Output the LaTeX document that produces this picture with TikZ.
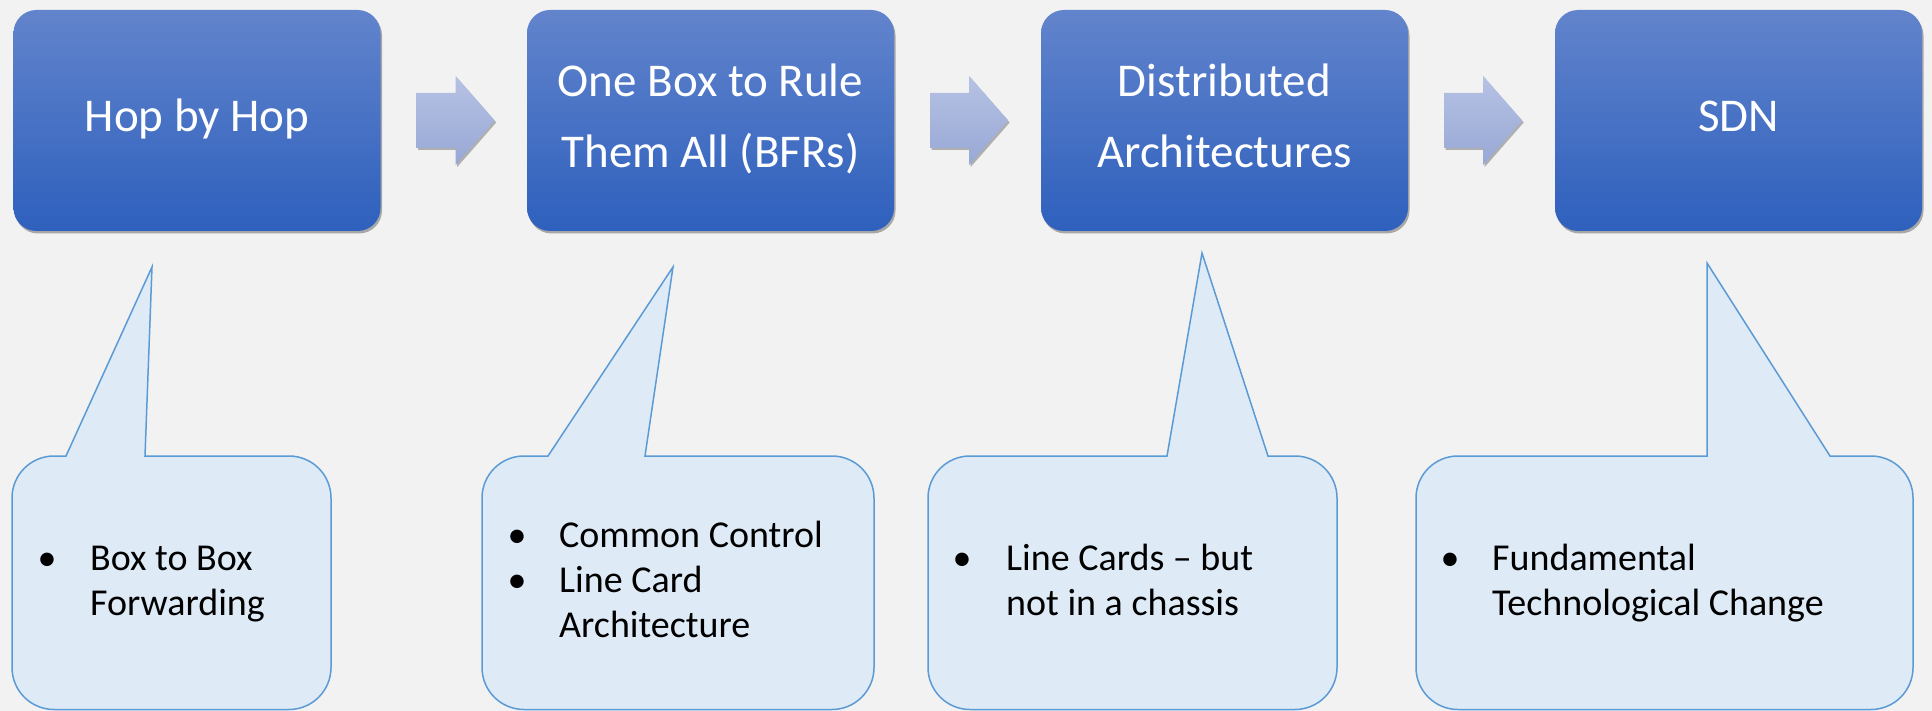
\documentclass[tikz,border=0pt]{standalone}
\usepackage{fontspec}
\setmainfont{Carlito}
\usetikzlibrary{shadows}
\definecolor{bg}{RGB}{242,242,242}
\definecolor{btop}{RGB}{98,132,204}
\definecolor{bbot}{RGB}{46,96,189}
\definecolor{atop}{RGB}{182,194,228}
\definecolor{abot}{RGB}{152,168,213}
\definecolor{cfill}{RGB}{222,234,246}
\definecolor{cline}{RGB}{91,155,213}
\begin{document}
\begin{tikzpicture}[x=1pt,y=-1pt,
  stage/.style={draw=none, rounded corners=23pt, top color=btop, bottom color=bbot,
    minimum width=367pt, minimum height=221pt, inner sep=0pt,
    drop shadow={shadow xshift=1.5pt, shadow yshift=-2.5pt, opacity=0.45, fill=black!70}},
  stagetext/.style={text=white, font=\fontsize{47}{56}\selectfont, anchor=base, inner sep=0pt},
  blockarrow/.style={top color=atop, bottom color=abot,
    drop shadow={shadow xshift=1.5pt, shadow yshift=-2pt, opacity=0.4, fill=black!70}},
  callout/.style={fill=cfill, draw=cline, line width=1.5pt, line join=miter},
  itemtext/.style={font=\fontsize{38}{45}\selectfont, anchor=base west, inner sep=0pt, text=black},
  itembullet/.style={font=\fontsize{38}{45}\selectfont, anchor=base, inner sep=0pt, text=black},
]
\path[use as bounding box, fill=bg] (0,0) rectangle (1932,711);

% stage boxes
\node[stage] (b1) at (197,120.5) {};
\node[stage] (b2) at (710.5,120.5) {};
\node[stage] (b3) at (1224.5,120.5) {};
\node[stage] (b4) at (1738.5,120.5) {};

\node[stagetext] (t1) at (197,132) {Hop by Hop};
\node[stagetext] (t2a) at (710.5,97) {One Box to Rule};
\node[stagetext] (t2b) at (710.5,168) {Them All (BFRs)};
\node[stagetext] (t3a) at (1224.5,97) {Distributed};
\node[stagetext] (t3b) at (1224.5,168) {Architectures};
\node[stagetext] (t4) at (1738.5,132) {SDN};

% block arrows
\foreach \src/\nm in {b1/a1, b2/a2, b3/a3}{
  \path (\src.east) ++(36,0) coordinate (\nm);
  \path[blockarrow] (\nm) ++(0,-27.5) -- ++(39,0) -- ++(0,-17) -- ++(39,44.5)
     -- ++(-39,44.5) -- ++(0,-17) -- ++(-39,0) -- cycle;
}

% callouts
\foreach \L/\R/\lb/\tx/\ty/\rb in {12/331/66/152/267/145, 482/874/548/673/267/645,
    928/1337/1167/1202/253/1268, 1416/1913/1707/1707/263/1830}{
  \draw[callout] (\lb,456) -- (\tx,\ty) -- (\rb,456) [rounded corners=42pt] -- (\R,456)
     -- (\R,709.5) -- (\L,709.5) -- (\L,456) [sharp corners] -- (\lb,456) -- cycle;
}

% callout texts
\node[itembullet] (c1b1) at (47,570) {•};
\node[itemtext] (c1l1) at (90,570) {Box to Box};
\node[itemtext] (c1l2) at (90,615) {Forwarding};

\node[itembullet] (c2b1) at (517,547) {•};
\node[itemtext] (c2l1) at (559,547) {Common Control};
\node[itembullet] (c2b2) at (517,592) {•};
\node[itemtext] (c2l2) at (559,592) {Line Card};
\node[itemtext] (c2l3) at (559,637) {Architecture};

\node[itembullet] (c3b1) at (962,570) {•};
\node[itemtext] (c3l1) at (1006,570) {Line Cards – but};
\node[itemtext] (c3l2) at (1006,615) {not in a chassis};

\node[itembullet] (c4b1) at (1450,570) {•};
\node[itemtext] (c4l1) at (1492,570) {Fundamental};
\node[itemtext] (c4l2) at (1492,615) {Technological Change};
\end{tikzpicture}
\end{document}
